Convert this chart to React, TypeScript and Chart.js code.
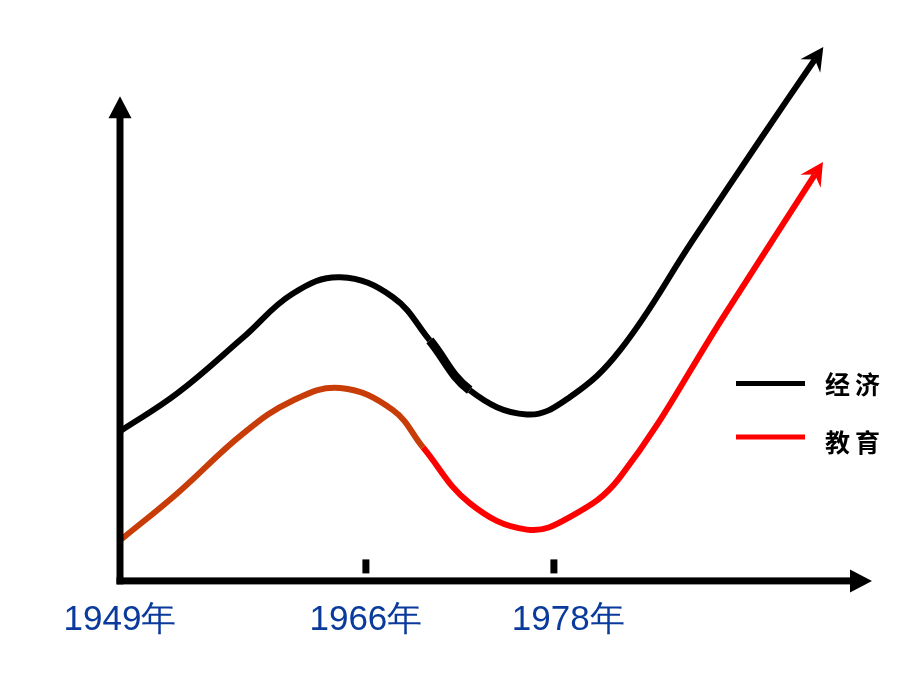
import React, { useEffect, useRef } from "react";
import { Chart, registerables } from "chart.js";

Chart.register(...registerables);

// x-axis categories (years) and where they sit on the schematic 0–100 time scale
const yearLabels = ["1949年", "1966年", "1978年"];
const labelPositions = [0, 32.7, 59.6];
const tickMarkPositions = [32.7, 57.7];

// 经济 (economy) curve, schematic 0–100 units
const economyX = [0, 7.6, 16.4, 23.0, 29.3, 36.3, 41.2, 46.5, 54.1, 59.8, 66.5, 76.2, 85.1, 92.4];
const economyY = [27.6, 34.6, 45.0, 53.1, 56.1, 52.4, 44.4, 35.2, 30.7, 33.9, 42.6, 63.0, 81.5, 96.4];

// 教育 (education) curve, schematic 0–100 units
const educationX = [0, 7.6, 16.4, 23.0, 29.3, 36.3, 40.3, 46.5, 54.1, 59.8, 66.5, 80.7, 92.4];
const educationY = [7.4, 16.1, 27.2, 33.3, 35.6, 31.5, 24.6, 14.3, 9.4, 11.7, 19.1, 49.8, 75.1];

const seriesNames = ["经济", "教育"];
const seriesColors = ["#000000", "#ff0000"];
const earlyEducationColor = "#c83c08";

const yAxisTop = 89.6;
const xAxisEnd = 100;

const toPoints = (xs: number[], ys: number[]) => xs.map((x, i) => ({ x, y: ys[i] }));

const schematicPlugin = {
  id: "schematic",
  afterDatasetsDraw(chart: any) {
    const { ctx } = chart;
    const xs = chart.scales.x;
    const ys = chart.scales.y;
    const x0 = xs.getPixelForValue(0);
    const y0 = ys.getPixelForValue(0) + 0.5;
    const yTip = ys.getPixelForValue(yAxisTop);
    const xTip = xs.getPixelForValue(xAxisEnd);
    const half = 3.5;
    ctx.save();
    ctx.fillStyle = "#000";
    // y axis
    ctx.fillRect(x0 - half, yTip + 20, half * 2, y0 + half - (yTip + 20));
    ctx.beginPath();
    ctx.moveTo(x0, yTip);
    ctx.lineTo(x0 - 11.5, yTip + 22);
    ctx.lineTo(x0 + 11.5, yTip + 22);
    ctx.closePath();
    ctx.fill();
    // x axis
    ctx.fillRect(x0 - half, y0 - half, xTip - 20 - (x0 - half), half * 2);
    ctx.beginPath();
    ctx.moveTo(xTip, y0);
    ctx.lineTo(xTip - 22, y0 - 11.5);
    ctx.lineTo(xTip - 22, y0 + 11.5);
    ctx.closePath();
    ctx.fill();
    // tick marks above the axis
    tickMarkPositions.forEach((v) => {
      const px = xs.getPixelForValue(v);
      ctx.fillRect(px - 3.5, y0 - 21.5, 7, 14);
    });

    // arrowheads at curve ends
    chart.data.datasets.forEach((ds: any, i: number) => {
      const meta = chart.getDatasetMeta(i);
      const pts = meta.data;
      const last = pts[pts.length - 1];
      const prev = pts[pts.length - 2];
      const cx = Number.isFinite(last.cp1x) ? last.cp1x : prev.x;
      const cy = Number.isFinite(last.cp1y) ? last.cp1y : prev.y;
      let dx = last.x - cx;
      let dy = last.y - cy;
      const len = Math.hypot(dx, dy) || 1;
      dx /= len;
      dy /= len;
      const nx = -dy;
      const ny = dx;
      const tx = last.x + dx * 15;
      const ty = last.y + dy * 15;
      const bx = tx - dx * 23;
      const by = ty - dy * 23;
      const notchX = tx - dx * 15;
      const notchY = ty - dy * 15;
      ctx.fillStyle = ds.borderColor;
      ctx.beginPath();
      ctx.moveTo(tx, ty);
      ctx.lineTo(bx + nx * 12, by + ny * 12);
      ctx.lineTo(notchX, notchY);
      ctx.lineTo(bx - nx * 12, by - ny * 12);
      ctx.closePath();
      ctx.fill();
    });

    // legend
    const area = chart.chartArea;
    const lx0 = area.right - 136;
    const lx1 = area.right - 67;
    const tx0 = area.right - 47;
    const rowsLine = [area.top + 343.5, area.top + 397];
    const rowsText = [area.top + 344, area.top + 402];
    chart.data.datasets.forEach((ds: any, i: number) => {
      ctx.fillStyle = ds.borderColor;
      ctx.fillRect(lx0, rowsLine[i] - 2.5, lx1 - lx0, 5);
      ctx.fillStyle = "#000";
      ctx.font = "bold 25px 'Noto Sans CJK SC'";
      ctx.textBaseline = "middle";
      ctx.textAlign = "left";
      const chars = Array.from(ds.label as string);
      chars.forEach((ch, k) => ctx.fillText(ch, tx0 + k * 30, rowsText[i]));
    });
    ctx.restore();
  },
};

export default function App() {
  const canvasRef = useRef<HTMLCanvasElement | null>(null);

  useEffect(() => {
    if (!canvasRef.current) return;
    const chart = new Chart(canvasRef.current, {
      type: "line",
      data: {
        datasets: [
          {
            label: seriesNames[0],
            data: toPoints(economyX, economyY),
            borderColor: seriesColors[0],
            backgroundColor: seriesColors[0],
            borderWidth: 6,
            pointRadius: 0,
            tension: 0.4,
            clip: false as any,
            segment: {
              borderWidth: (c: any) => (c.p0DataIndex === 6 ? 9 : undefined),
            },
          },
          {
            label: seriesNames[1],
            data: toPoints(educationX, educationY),
            borderColor: seriesColors[1],
            backgroundColor: seriesColors[1],
            borderWidth: 6,
            pointRadius: 0,
            tension: 0.4,
            clip: false as any,
            segment: {
              borderColor: (c: any) => (c.p1DataIndex <= 6 ? earlyEducationColor : undefined),
            },
          },
        ],
      },
      options: {
        animation: false,
        responsive: false,
        devicePixelRatio: 1,
        layout: { padding: { left: 120, right: 48, top: 40, bottom: 29.6 } },
        plugins: {
          legend: { display: false },
          tooltip: { enabled: false },
        },
        scales: {
          x: {
            type: "linear",
            min: 0,
            max: 100,
            grid: { display: false, drawTicks: false },
            border: { display: false },
            afterBuildTicks: (scale: any) => {
              scale.ticks = labelPositions.map((v) => ({ value: v }));
            },
            ticks: {
              autoSkip: false,
              maxRotation: 0,
              padding: 19,
              color: "#0a3a9c",
              font: { size: 35, family: "'Liberation Sans', sans-serif" },
              callback: (_v: any, i: number) => yearLabels[i],
            },
          },
          y: {
            type: "linear",
            min: 0,
            max: 100,
            display: false,
          },
        },
      },
      plugins: [schematicPlugin],
    });
    return () => chart.destroy();
  }, []);

  return (
    <div style={{ position: "absolute", left: 0, top: 0, width: 920, height: 690, background: "#fff" }}>
      <canvas ref={canvasRef} width={920} height={690} />
    </div>
  );
}
